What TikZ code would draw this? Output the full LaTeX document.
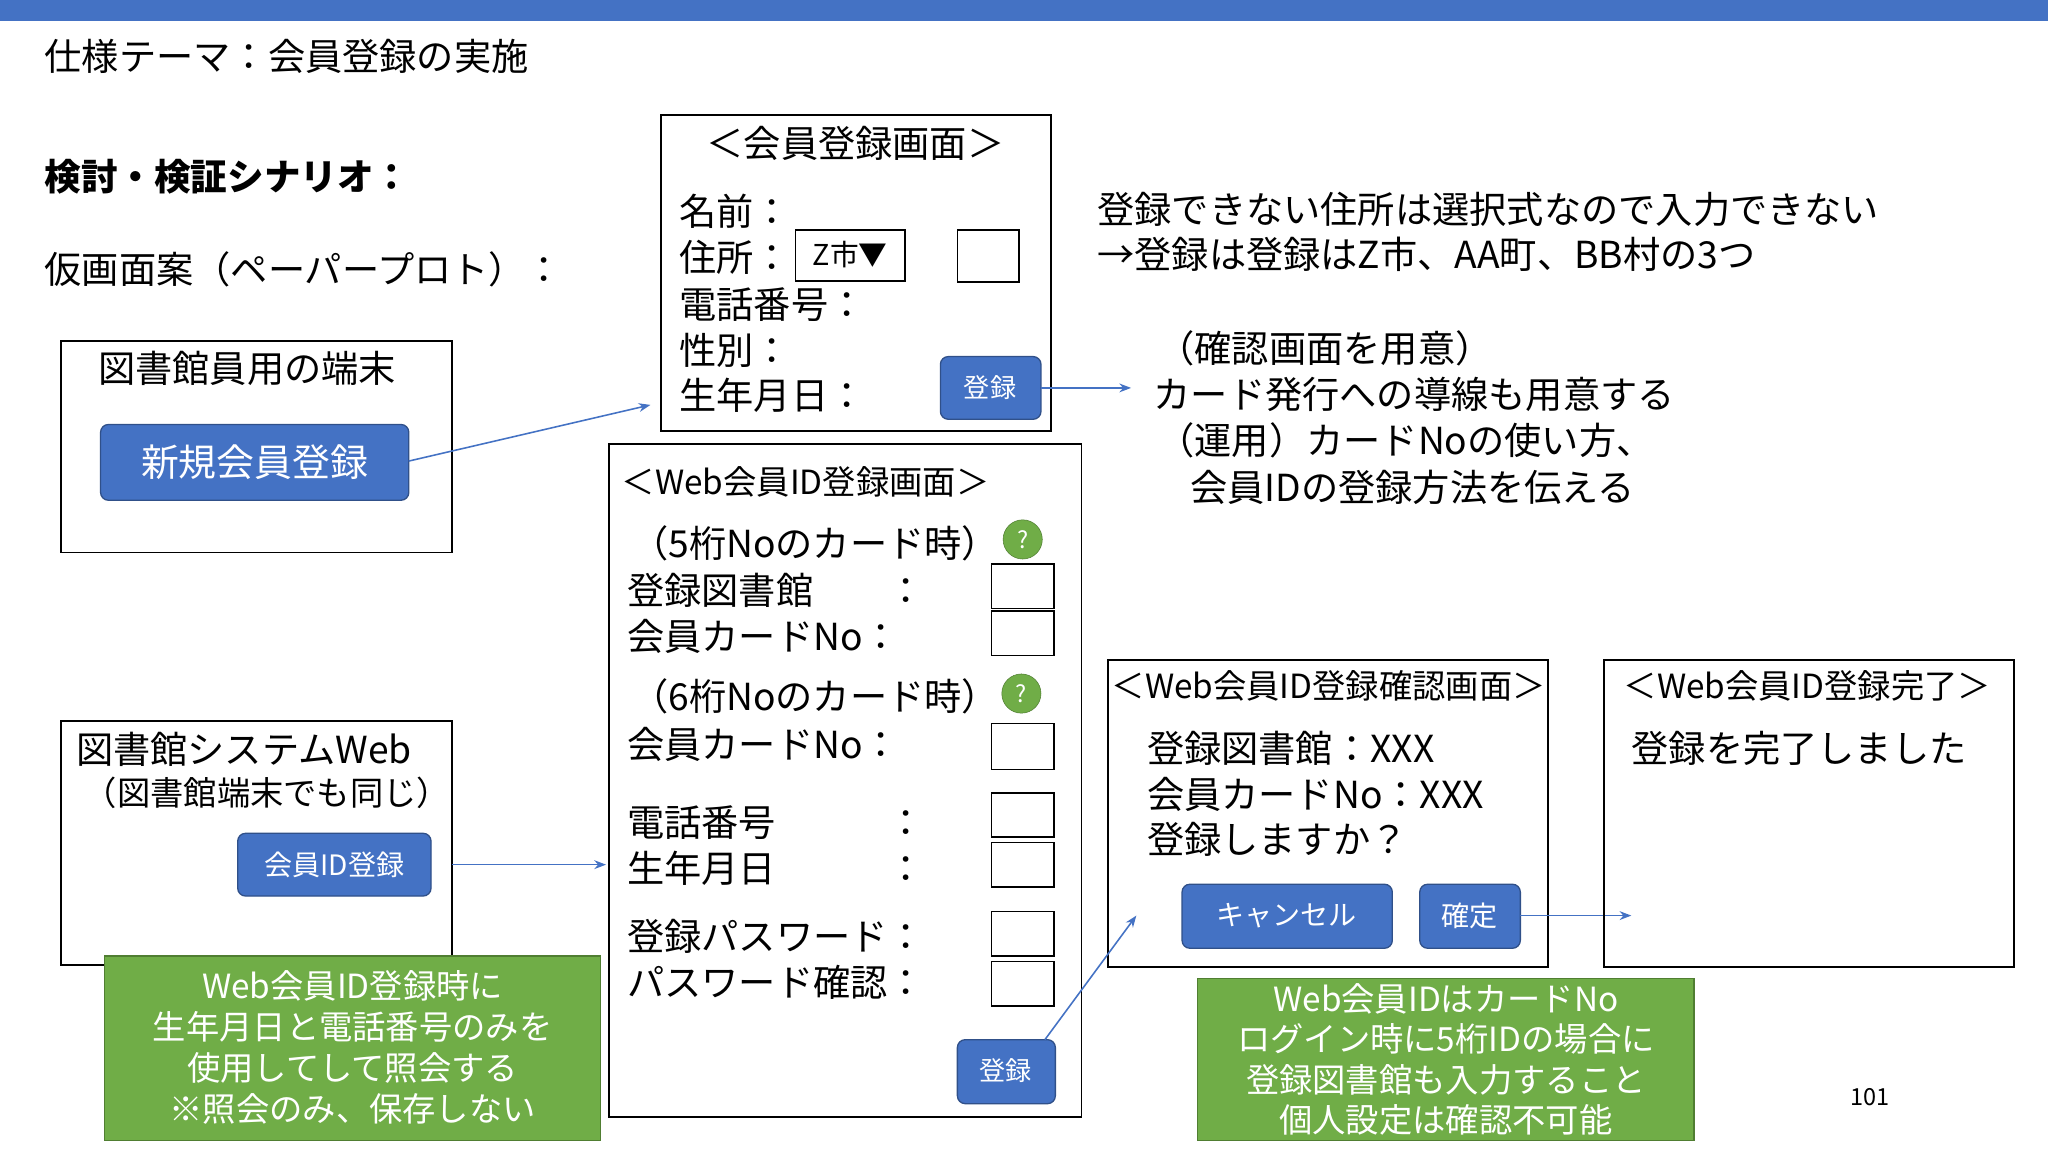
\documentclass[tikz,border=0pt]{standalone}
\usepackage{fontspec}
\setmainfont{Noto Sans CJK JP}
\usetikzlibrary{arrows.meta}
\definecolor{bl}{HTML}{4472C4}
\definecolor{gr}{HTML}{70AD47}
\definecolor{grd}{HTML}{507E32}
\tikzset{
 fr/.style={draw=black,line width=1.5pt},
 btn/.style={draw=bl!70!black,fill=bl,rounded corners=6pt,text=white,line width=1pt},
 gbox/.style={draw=grd,fill=gr,line width=1pt},
 lt/.style={anchor=west,inner sep=0pt,font=\fontsize{28.5}{30}\selectfont},
 st/.style={anchor=west,inner sep=0pt,font=\fontsize{25.5}{28}\selectfont},
 eb/.style={draw=black,line width=1.2pt},
 arr/.style={draw=bl,line width=1.2pt,-{Stealth[length=9pt]}},
 q/.style={circle,fill=gr,draw=grd,text=white,minimum size=30pt,inner sep=0pt,font=\fontsize{18}{18}\selectfont}
}
\begin{document}
\begin{tikzpicture}[x=1pt,y=-1pt]
\useasboundingbox (0,0) rectangle (1568,882);
\fill[white] (0,0) rectangle (1568,882);
\fill[bl] (0,0) rectangle (1568,16);
\node[lt] (title) at (34,43) {仕様テーマ：会員登録の実施};
\node[lt,font=\fontsize{28}{30}\bfseries] (kt) at (34,135) {検討・検証シナリオ：};
\node[lt] (kari) at (34,206) {仮画面案（ペーパープロト）：};
% box1
\draw[fr] (47,261) rectangle (346,423);
\node[lt] (t1) at (75,282) {図書館員用の端末};
\draw[btn] (77,325) rectangle (313,383);
\node[text=white,font=\fontsize{29}{30}\selectfont] (b1) at (195,354) {新規会員登録};
\coordinate (b1r) at (313,353);
% box2
\draw[fr] (506,88) rectangle (805,330);
\node[font=\fontsize{28.5}{30}\selectfont] (h2) at (655,110) {＜会員登録画面＞};
\node[lt] (n1) at (520,162) {名前：};
\node[lt] (n2) at (520,197) {住所：};
\node[lt] (n3) at (520,233) {電話番号：};
\node[lt] (n4) at (520,268) {性別：};
\node[lt] (n5) at (520,303) {生年月日：};
\draw[eb] (609,176) rectangle (693,215);
\node[font=\fontsize{22}{24}\selectfont] (z) at (651,195) {Z市▼};
\draw[eb] (733,176) rectangle (780,216);
\draw[btn] (720,273) rectangle (797,321);
\node[text=white,font=\fontsize{20}{22}\selectfont] (b2) at (758,297) {登録};
\coordinate (a1e) at (498,310);
\coordinate (b2r) at (797,297);
\coordinate (a2e) at (866,297);
\draw[arr] (b1r) -- (a1e);
\draw[arr] (b2r) -- (a2e);
\node[lt] (r1) at (840,160) {登録できない住所は選択式なので入力できない};
\node[lt] (r2) at (840,195) {→登録は登録はZ市、AA町、BB村の3つ};
\node[lt] (r3) at (886,267) {（確認画面を用意）};
\node[lt] (r4) at (883,302) {カード発行への導線も用意する};
\node[lt] (r5) at (886,337) {（運用）カードNoの使い方、};
\node[lt] (r6) at (911,373) {会員IDの登録方法を伝える};
% box3
\draw[fr] (466,340) rectangle (828,855);
\node[st] (h3) at (476,369) {＜Web会員ID登録画面＞};
\node[lt] (w1) at (483,416) {（5桁Noのカード時）};
\node[q] (q1) at (783,413) {?};
\node[lt] (w2) at (480,452) {登録図書館　　：};
\node[lt] (w3) at (480,487) {会員カードNo：};
\draw[eb] (759,432) rectangle (807,466);
\draw[eb] (759,468) rectangle (807,502);
\node[lt] (w4) at (483,533) {（6桁Noのカード時）};
\node[q] (q2) at (782,531) {?};
\node[lt] (w5) at (480,570) {会員カードNo：};
\draw[eb] (759,554) rectangle (807,589);
\node[lt] (w6) at (480,630) {電話番号　　　：};
\node[lt] (w7) at (480,665) {生年月日　　　：};
\draw[eb] (759,607) rectangle (807,641);
\draw[eb] (759,645) rectangle (807,679);
\node[lt] (w8) at (480,717) {登録パスワード：};
\node[lt] (w9) at (480,752) {パスワード確認：};
\draw[eb] (759,698) rectangle (807,732);
\draw[eb] (759,736) rectangle (807,770);
\draw[btn] (733,796) rectangle (808,845);
\node[text=white,font=\fontsize{20}{22}\selectfont] (b3) at (770,820) {登録};
% box4
\draw[fr] (47,552) rectangle (346,739);
\node[lt] (s1) at (58,574) {図書館システムWeb};
\node[st] (s2) at (64,607) {（図書館端末でも同じ）};
\draw[btn] (182,638) rectangle (330,686);
\node[text=white,font=\fontsize{21.5}{23}\selectfont] (b4) at (256,662) {会員ID登録};
\coordinate (b4r) at (346,662);
\coordinate (a4e) at (464,662);
\draw[arr] (b4r) -- (a4e);
\draw[gbox] (80,732) rectangle (460,873);
\node[text=white,align=center,font=\fontsize{25.5}{31.5}\selectfont] (g1) at (270,802) {Web会員ID登録時に\\生年月日と電話番号のみを\\使用してして照会する\\※照会のみ、保存しない};
% box5
\draw[fr] (848,505) rectangle (1185,740);
\node[st] (h5) at (851,525) {＜Web会員ID登録確認画面＞};
\node[lt] (c1) at (878,573) {登録図書館：XXX};
\node[lt] (c2) at (878,608) {会員カードNo：XXX};
\node[lt] (c3) at (878,643) {登録しますか？};
\draw[btn] (905,677) rectangle (1066,726);
\node[text=white,font=\fontsize{21.5}{23}\selectfont] (b5) at (985,701) {キャンセル};
\draw[btn] (1087,677) rectangle (1164,726);
\node[text=white,font=\fontsize{21.5}{23}\selectfont] (b6) at (1125,701) {確定};
\coordinate (b3t) at (800,796);
\coordinate (a3e) at (870,701);
\draw[arr] (b3t) -- (a3e);
\coordinate (b6r) at (1164,701);
\coordinate (a6e) at (1249,701);
\draw[arr] (b6r) -- (a6e);
% box6
\draw[fr] (1228,505) rectangle (1542,740);
\node[st] (h6) at (1243,525) {＜Web会員ID登録完了＞};
\node[lt] (d1) at (1249,573) {登録を完了しました};
\draw[gbox] (917,749) rectangle (1297,873);
\node[text=white,align=center,font=\fontsize{25.5}{31}\selectfont] (g2) at (1107,811) {Web会員IDはカードNo\\ログイン時に5桁IDの場合に\\登録図書館も入力すること\\個人設定は確認不可能};
\node[font=\fontsize{18}{20}\selectfont] (pn) at (1432,840) {101};
\end{tikzpicture}
\end{document}
